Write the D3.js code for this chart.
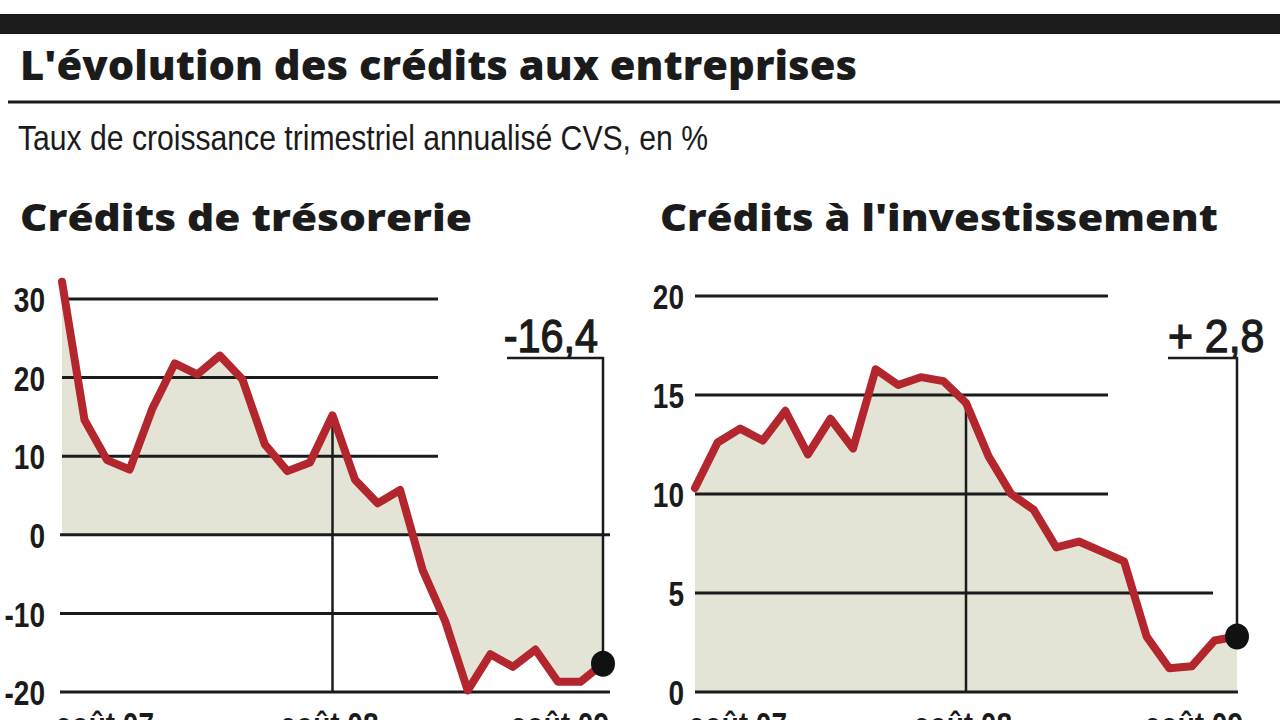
<!DOCTYPE html>
<html><head><meta charset="utf-8">
<script src="https://cdn.jsdelivr.net/npm/d3@7"></script>
<style>
html,body{margin:0;padding:0;background:#fff;overflow:hidden;}
svg{display:block;}
</style></head>
<body>
<svg id="c" width="1280" height="720"></svg>
<script>
// ---- data ----
const months = ["août 07","sept. 07","oct. 07","nov. 07","déc. 07","janv. 08","févr. 08","mars 08","avr. 08","mai 08","juin 08","juil. 08",
                "août 08","sept. 08","oct. 08","nov. 08","déc. 08","janv. 09","févr. 09","mars 09","avr. 09","mai 09","juin 09","juil. 09","août 09"];
const tresorerie = [32.2,14.6,9.5,8.3,16.0,21.8,20.4,22.8,19.8,11.5,8.1,9.2,15.2,7.0,4.0,5.7,-4.5,-11.0,-19.8,-15.2,-16.8,-14.6,-18.7,-18.7,-16.4];
const investissement = [10.3,12.6,13.3,12.7,14.2,12.0,13.8,12.3,16.3,15.5,15.9,15.7,14.6,11.9,10.0,9.2,7.3,7.6,7.1,6.6,2.8,1.2,1.3,2.6,2.8];
const ticksTreso = [-20,-10,0,10,20,30];
const ticksInvest = [0,5,10,15,20];
const xLabels = ["août 07","août 08","août 09"];
const title = "L'évolution des crédits aux entreprises";
const subtitle = "Taux de croissance trimestriel annualisé CVS, en %";
const panelTitles = ["Crédits de trésorerie","Crédits à l'investissement"];
const lastLabels = ["-16,4","+ 2,8"];

// ---- style ----
const RED = "#b3262d", FILL = "#e3e3d6", INK = "#1b1b1b";
const SANS = "'Liberation Sans',Arial,sans-serif";
const CX = 0.8; // horizontal condensing for the narrow face
const svg = d3.select("#c");

function narrow(sel, x, y, anchor, k){
  return sel.attr("x",0).attr("y",0).attr("text-anchor",anchor)
    .attr("transform",`translate(${x},${y}) scale(${k||CX},1)`);
}

// header
svg.append("rect").attr("x",0).attr("y",14).attr("width",1280).attr("height",20).attr("fill",INK);
svg.append("text").attr("x",20).attr("y",80).text(title)
  .attr("font-family","'Open Sans',sans-serif").attr("font-weight",800).attr("font-size",40)
  .attr("textLength",837).attr("lengthAdjust","spacingAndGlyphs").attr("fill",INK);
svg.append("line").attr("x1",8).attr("x2",1280).attr("y1",102).attr("y2",102).attr("stroke",INK).attr("stroke-width",3);
svg.append("text").attr("x",18).attr("y",150).text(subtitle)
  .attr("font-family",SANS).attr("font-size",35)
  .attr("textLength",690).attr("lengthAdjust","spacingAndGlyphs").attr("fill",INK);

const panels = [
  {title:panelTitles[0], tx:20, tw:452, data:tresorerie, ticks:ticksTreso, dom:[-20,30], yr:[692,299], xr:[62,603],
   grid:{"30":[62,438],"20":[62,438],"10":[62,438],"0":[60,610],"-10":[60,438],"-20":[60,610]},
   tickX:45, ann:{text:lastLabels[0], tx:598, anchor:"end", hx1:507, k:0.9}},
  {title:panelTitles[1], tx:660, tw:558, data:investissement, ticks:ticksInvest, dom:[0,20], yr:[692,296], xr:[695,1237],
   grid:{"20":[695,1108],"15":[695,1108],"10":[695,1108],"5":[695,1213],"0":[695,1238]},
   tickX:684, ann:{text:lastLabels[1], tx:1168, anchor:"start", hx1:1168, k:0.93}}
];

panels.forEach(p => {
  const g = svg.append("g");
  g.append("text").attr("x",p.tx).attr("y",231).text(p.title)
    .attr("font-family","'Open Sans',sans-serif").attr("font-weight",800).attr("font-size",37)
    .attr("textLength",p.tw).attr("lengthAdjust","spacingAndGlyphs").attr("fill",INK);

  const x = d3.scalePoint().domain(months).range(p.xr);
  const y = d3.scaleLinear().domain(p.dom).range(p.yr);

  // area
  const area = d3.area().x((d,i)=>x(months[i])).y0(y(0)).y1(d=>y(d));
  g.append("path").datum(p.data).attr("d",area).attr("fill",FILL);

  // gridlines
  g.selectAll(".grid").data(p.ticks).join("line")
    .attr("x1",d=>p.grid[String(d)][0]).attr("x2",d=>p.grid[String(d)][1])
    .attr("y1",d=>y(d)).attr("y2",d=>y(d)).attr("stroke",INK).attr("stroke-width",3);

  // y axis labels (hyphen-minus, as printed)
  const ax = g.append("g").attr("transform",`translate(${p.tickX},0)`)
    .call(d3.axisLeft(y).tickValues(p.ticks).tickSize(0).tickPadding(0).tickFormat(d=>String(d)));
  ax.select(".domain").remove();
  ax.selectAll("text").attr("font-family",SANS).attr("font-weight","bold").attr("font-size",35)
    .attr("fill",INK).attr("x",0).attr("dy","0.36em").attr("transform",`scale(${CX},1)`);

  // vertical marker at août 08
  const mid = months.indexOf(xLabels[1]);
  g.append("line").attr("x1",x(months[mid])).attr("x2",x(months[mid]))
    .attr("y1",y(p.data[mid])).attr("y2",y(p.dom[0])).attr("stroke",INK).attr("stroke-width",2.5);

  // line
  const line = d3.line().x((d,i)=>x(months[i])).y(d=>y(d));
  g.append("path").datum(p.data).attr("d",line).attr("fill","none")
    .attr("stroke",RED).attr("stroke-width",8).attr("stroke-linejoin","round").attr("stroke-linecap","round");

  // annotation
  const last = p.data.length-1, lx = x(months[last]), ly = y(p.data[last]);
  g.append("polyline").attr("points",`${p.ann.hx1},358 ${lx},358 ${lx},${ly}`)
    .attr("fill","none").attr("stroke",INK).attr("stroke-width",2.5);
  g.append("ellipse").attr("cx",lx).attr("cy",ly).attr("rx",12).attr("ry",13).attr("fill","#111");
  narrow(g.append("text").text(p.ann.text), p.ann.tx, 352, p.ann.anchor, p.ann.k)
    .attr("font-family",SANS).attr("font-size",46).attr("fill",INK)
    .attr("stroke",INK).attr("stroke-width",1.3);

  // x labels (partially cut off at the bottom, as in the original)
  const anchors = ["start","middle","end"], offs = [-6,-3,6];
  xLabels.forEach((lab,k)=>{
    narrow(g.append("text").text(lab), x(lab)+offs[k], 737, anchors[k])
      .attr("font-family",SANS).attr("font-weight","bold").attr("font-size",35).attr("fill",INK);
  });
});
</script>
</body></html>
